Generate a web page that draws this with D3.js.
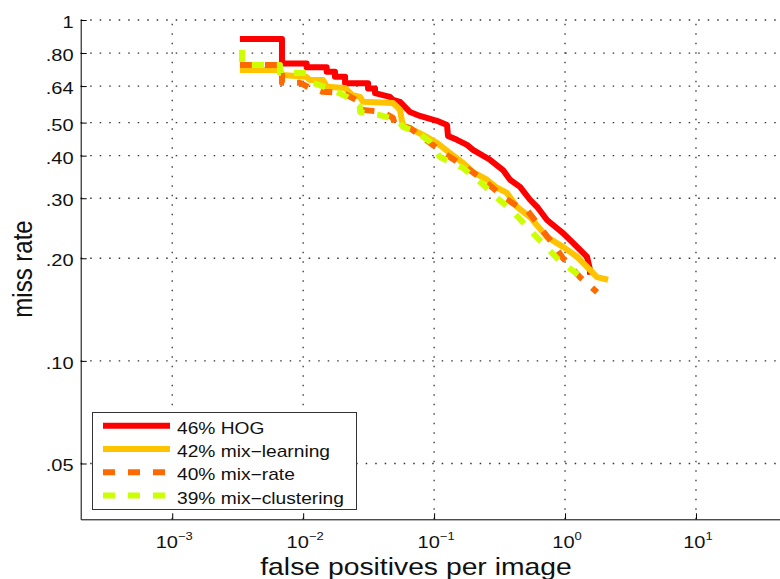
<!DOCTYPE html>
<html>
<head>
<meta charset="utf-8">
<script src="https://cdn.jsdelivr.net/npm/d3@7"></script>
<style>
  body { margin: 0; background: #fff; }
  svg { display: block; font-family: "Liberation Sans", Arial, sans-serif; }
</style>
</head>
<body>
<div id="chart"></div>
<script>
// tick values / labels
const xTicks = [1e-3, 1e-2, 1e-1, 1, 10];
const xTickExponents = ['\u22123', '\u22122', '\u22121', '0', '1'];
const yTicks = [0.05, 0.10, 0.20, 0.30, 0.40, 0.50, 0.64, 0.80, 1];
const yTickLabels = ['.05', '.10', '.20', '.30', '.40', '.50', '.64', '.80', '1'];

// [false positives per image, miss rate]
const hog = [
    [0.00329, 0.880], [0.00689, 0.880], [0.00689, 0.746], [0.01063, 0.746], [0.01063, 0.727],
    [0.01512, 0.727], [0.01512, 0.705], [0.0175, 0.705], [0.0175, 0.682], [0.0209, 0.682],
    [0.0209, 0.652], [0.0313, 0.652], [0.0313, 0.630], [0.0354, 0.630], [0.0354, 0.610],
    [0.0460, 0.595], [0.0485, 0.583], [0.0549, 0.575], [0.0655, 0.537], [0.0780, 0.523],
    [0.1052, 0.506], [0.1255, 0.492], [0.1277, 0.457], [0.1496, 0.445], [0.1784, 0.430],
    [0.1982, 0.416], [0.2673, 0.389], [0.336, 0.363], [0.380, 0.340], [0.4531, 0.324],
    [0.5403, 0.297], [0.6218, 0.281], [0.7286, 0.259], [0.8688, 0.245], [0.9654, 0.237],
    [1.151, 0.222], [1.235, 0.216], [1.473, 0.202], [1.552, 0.185], [1.552, 0.179]
];
const mixLearning = [
    [0.00329, 0.713], [0.00665, 0.713], [0.00689, 0.690], [0.0105, 0.682], [0.01127, 0.667],
    [0.01417, 0.667], [0.0152, 0.637], [0.0209, 0.632], [0.0236, 0.603], [0.0272, 0.595],
    [0.0286, 0.576], [0.0485, 0.571], [0.0521, 0.556], [0.0549, 0.545], [0.0579, 0.486],
    [0.0621, 0.486], [0.0823, 0.460], [0.1052, 0.436], [0.1323, 0.407], [0.1663, 0.381],
    [0.1982, 0.358], [0.2535, 0.340], [0.3022, 0.322], [0.3604, 0.311], [0.4299, 0.283],
    [0.5403, 0.264], [0.7286, 0.231], [0.9654, 0.216], [1.235, 0.202], [1.552, 0.185],
    [1.756, 0.176], [2.131, 0.173]
];
const mixRate = [
    [0.00329, 0.738], [0.00689, 0.738], [0.00689, 0.654], [0.00946, 0.654], [0.01127, 0.632],
    [0.01393, 0.616], [0.0201, 0.611], [0.0272, 0.575], [0.0286, 0.545], [0.0407, 0.537],
    [0.0485, 0.516], [0.0503, 0.492], [0.0655, 0.482], [0.1052, 0.421], [0.1323, 0.396],
    [0.1784, 0.368], [0.2535, 0.333], [0.336, 0.303], [0.4531, 0.281], [0.5125, 0.277],
    [0.7683, 0.226], [0.9654, 0.200], [1.302, 0.176], [1.756, 0.159]
];
const mixClustering = [
    [0.00341, 0.817], [0.00341, 0.738], [0.00665, 0.738], [0.00665, 0.699], [0.0105, 0.699],
    [0.01189, 0.654], [0.0169, 0.623], [0.0216, 0.595], [0.0272, 0.556], [0.0272, 0.537],
    [0.0386, 0.526], [0.0521, 0.509], [0.0579, 0.486], [0.0740, 0.469], [0.0930, 0.439],
    [0.1109, 0.396], [0.1663, 0.368], [0.2242, 0.335], [0.3022, 0.301], [0.4006, 0.274],
    [0.5403, 0.242], [0.8688, 0.200], [1.257, 0.179]
];

const seriesNames = ['46% HOG', '42% mix\u2212learning', '40% mix\u2212rate', '39% mix\u2212clustering'];
const seriesValues = [hog, mixLearning, mixRate, mixClustering];

const colors = ['#ff0000', '#ffc300', '#ff6a00', '#ccff00'];
const dashes = [null, null, '12,13', '12,13'];

const width = 780, height = 579;
const plotLeft = 80.7, plotRight = 787.5, plotTop = 20, plotBottom = 519.3;
const stretch = 1.18;   // the figure is a bit wider than tall, text too

const svg = d3.select('#chart')
    .append('svg')
    .attr('width', width)
    .attr('height', height);

const x = d3.scaleLog().domain([2e-4, 50]).range([plotLeft, plotRight]);
const y = d3.scaleLog().domain([0.0343, 1]).range([plotBottom, plotTop]);

// dotted grid
const grid = svg.append('g')
    .attr('stroke', '#333')
    .attr('stroke-width', 1.3)
    .attr('stroke-dasharray', '1.5,8');

grid.selectAll('line.vgrid')
    .data(xTicks)
    .join('line')
    .attr('class', 'vgrid')
    .attr('x1', d => x(d)).attr('x2', d => x(d))
    .attr('y1', plotBottom).attr('y2', plotTop);

grid.selectAll('line.hgrid')
    .data(yTicks)
    .join('line')
    .attr('class', 'hgrid')
    .attr('x1', plotLeft).attr('x2', plotRight)
    .attr('y1', d => y(d)).attr('y2', d => y(d));

// axes with inward ticks
const yAxis = d3.axisLeft(y)
    .tickValues(yTicks)
    .tickSizeInner(-6)
    .tickSizeOuter(0)
    .tickPadding(6)
    .tickFormat((d, i) => yTickLabels[i]);

svg.append('g')
    .attr('transform', `translate(${plotLeft},0)`)
    .call(yAxis)
    .attr('font-family', null)
    .call(g => g.selectAll('text')
        .attr('font-size', 17)
        .attr('fill', '#111')
        .attr('dy', '0.44em')
        .attr('transform', `scale(${stretch},1)`));

const xAxis = d3.axisBottom(x)
    .tickValues(xTicks)
    .tickSizeInner(-6)
    .tickSizeOuter(0)
    .tickFormat('');

svg.append('g')
    .attr('transform', `translate(0,${plotBottom})`)
    .call(xAxis);

// 10^n tick labels
const xLabels = svg.append('g')
    .selectAll('text')
    .data(xTicks)
    .join('text')
    .attr('transform', d => `translate(${x(d) + 2},548) scale(${stretch},1)`)
    .attr('text-anchor', 'middle')
    .attr('font-size', 17)
    .attr('fill', '#111');
xLabels.append('tspan').text('10');
xLabels.append('tspan')
    .attr('dy', -8)
    .attr('font-size', 11)
    .text((d, i) => xTickExponents[i]);

// axis titles
svg.append('text')
    .attr('transform', `translate(416,575) scale(${stretch},1)`)
    .attr('text-anchor', 'middle')
    .attr('font-size', 24)
    .attr('fill', '#111')
    .text('false positives per image');

svg.append('text')
    .attr('transform', `translate(32,269) scale(${stretch},1) rotate(-90)`)
    .attr('text-anchor', 'middle')
    .attr('font-size', 24)
    .attr('fill', '#111')
    .text('miss rate');

// curves
const line = d3.line()
    .x(d => x(d[0]))
    .y(d => y(d[1]));

svg.append('g')
    .selectAll('path')
    .data(seriesValues)
    .join('path')
    .attr('d', line)
    .attr('fill', 'none')
    .attr('stroke', (d, i) => colors[i])
    .attr('stroke-width', 6)
    .attr('stroke-linejoin', 'round')
    .attr('stroke-dasharray', (d, i) => dashes[i]);

// legend
const legend = svg.append('g');
legend.append('rect')
    .attr('x', 92.5).attr('y', 412.5)
    .attr('width', 264).attr('height', 97)
    .attr('fill', '#fff')
    .attr('stroke', '#333')
    .attr('stroke-width', 1);

const rows = legend.selectAll('g.row')
    .data(seriesNames)
    .join('g')
    .attr('class', 'row')
    .attr('transform', (d, i) => `translate(0,${425.7 + i * 23.3})`);

rows.append('line')
    .attr('x1', 103).attr('x2', 170)
    .attr('stroke', (d, i) => colors[i])
    .attr('stroke-width', 6)
    .attr('stroke-dasharray', (d, i) => dashes[i]);

rows.append('text')
    .attr('transform', `translate(177,8) scale(1.2,1)`)
    .attr('font-size', 16)
    .attr('fill', '#111')
    .text(d => d);
</script>
</body>
</html>
